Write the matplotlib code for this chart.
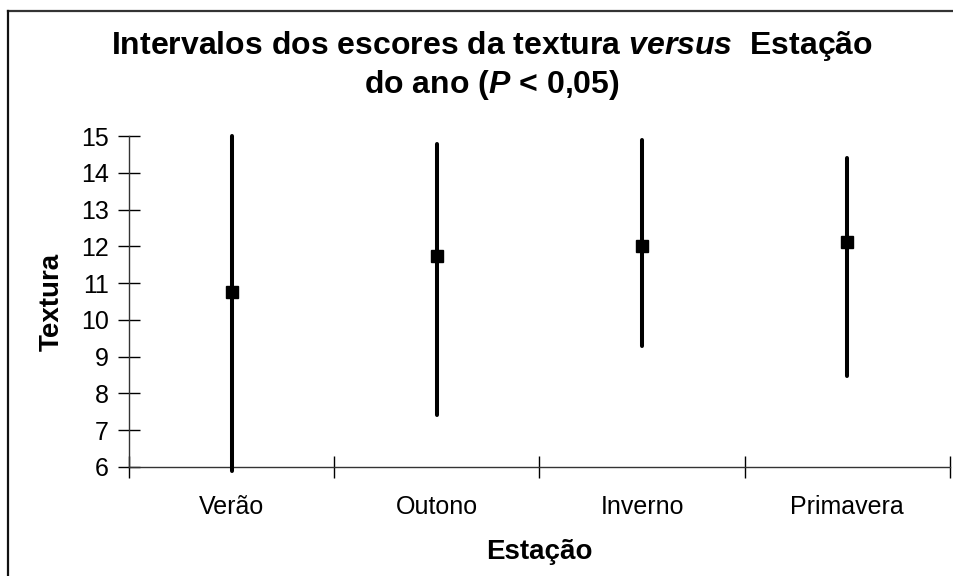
import matplotlib
matplotlib.use("Agg")
import matplotlib.pyplot as plt
from matplotlib.lines import Line2D

# data
estacoes = ["Verão", "Outono", "Inverno", "Primavera"]
media = [10.77, 11.75, 12.02, 12.13]
limite_inf = [5.9, 7.41, 9.29, 8.47]
limite_sup = [15.0, 14.78, 14.89, 14.40]
y_ticks = [6, 7, 8, 9, 10, 11, 12, 13, 14, 15]

plt.rcParams["font.family"] = "Liberation Sans"
plt.rcParams["mathtext.fontset"] = "custom"
plt.rcParams["mathtext.rm"] = "Liberation Sans:bold"
plt.rcParams["mathtext.it"] = "Liberation Sans:bold:italic"

fig = plt.figure(figsize=(9.54, 5.76), dpi=100)
ax = fig.add_axes([129 / 954, 1 - 467 / 576, 821 / 954, 331 / 576])

x = list(range(1, len(estacoes) + 1))
for xi, lo, hi in zip(x, limite_inf, limite_sup):
    ax.plot([xi, xi], [lo, hi], color="black", lw=2.9, solid_capstyle="round",
            clip_on=False, zorder=3)
ax.plot(x, media, "s", color="black", markersize=8, clip_on=False, zorder=4)

ax.set_xlim(0.5, len(estacoes) + 0.5)
ax.set_ylim(6, 15)
ax.set_yticks(y_ticks)
ax.set_xticks([i + 0.5 for i in range(len(estacoes) + 1)])
ax.set_xticklabels([])
ax.set_xticks(x, minor=True)
ax.set_xticklabels(estacoes, minor=True)
ax.tick_params(axis="x", which="major", direction="inout", length=16, width=1)
ax.tick_params(axis="x", which="minor", length=0, pad=20, labelsize=18)
ax.tick_params(axis="y", direction="inout", length=16, width=1, pad=6.5, labelsize=18)

for s in ["top", "right"]:
    ax.spines[s].set_visible(False)
for s in ["left", "bottom"]:
    ax.spines[s].set_color("#333333")
    ax.spines[s].set_linewidth(1)

ax.set_ylabel("Textura", fontsize=20, fontweight="bold", va="center", ha="center")
ax.set_xlabel("Estação", fontsize=20, fontweight="bold", va="center", ha="center")
ax.yaxis.set_label_coords((52 - 129) / 821, 0.5)
ax.xaxis.set_label_coords(0.5, (467 - 552) / 331)

fig.text(492 / 954, 1 - 46 / 576,
         r"Intervalos dos escores da textura $\it{versus}$  Estação",
         ha="center", va="center", fontsize=23, fontweight="bold")
fig.text(492 / 954, 1 - 85 / 576, r"do ano ($\it{P}$ < 0,05)",
         ha="center", va="center", fontsize=23, fontweight="bold")

# chart frame (only top and left edges visible)
fig.add_artist(Line2D([8 / 954, 1], [1 - 11 / 576, 1 - 11 / 576],
                      transform=fig.transFigure, color="#333333", lw=1.6))
fig.add_artist(Line2D([8 / 954, 8 / 954], [0, 1 - 11 / 576],
                      transform=fig.transFigure, color="#111111", lw=1.6))

fig.savefig("out.png", dpi=100)
